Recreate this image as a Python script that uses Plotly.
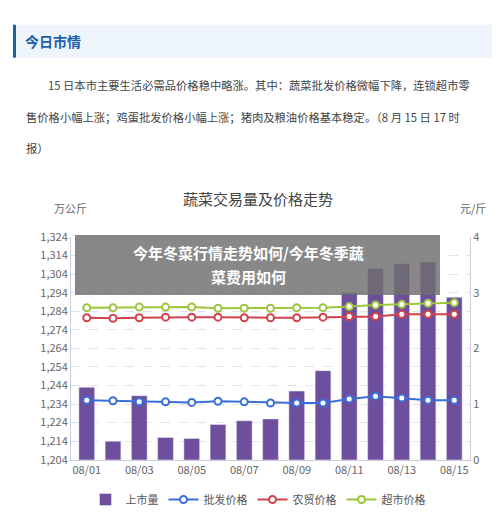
import plotly.graph_objects as go

dates = ["08/01", "08/02", "08/03", "08/04", "08/05", "08/06", "08/07", "08/08",
         "08/09", "08/10", "08/11", "08/12", "08/13", "08/14", "08/15"]
volume = [1243, 1214, 1238.5, 1216, 1215.5, 1223, 1225, 1226,
          1241, 1252, 1294, 1307, 1309.5, 1310.5, 1291.5]
wholesale = [1.07, 1.06, 1.04, 1.04, 1.03, 1.05, 1.04, 1.02,
             1.02, 1.02, 1.09, 1.14, 1.11, 1.07, 1.07]
farm = [2.55, 2.54, 2.55, 2.56, 2.56, 2.56, 2.55, 2.55,
        2.55, 2.56, 2.57, 2.57, 2.61, 2.61, 2.61]
market = [2.73, 2.73, 2.74, 2.74, 2.74, 2.72, 2.72, 2.72,
          2.73, 2.73, 2.75, 2.78, 2.79, 2.81, 2.82]
left_ticks = [1204, 1214, 1224, 1234, 1244, 1254, 1264, 1274, 1284, 1294, 1304, 1314, 1324]

FONT = "Noto Sans CJK SC"
W, H = 500, 514
idx = list(range(len(dates)))

fig = go.Figure()
fig.add_trace(go.Bar(x=idx, y=volume, name="上市量", marker_color="#6e4f9e",
                     width=0.6, yaxis="y"))
for name, vals, col in [("批发价格", wholesale, "#3a6fd8"),
                        ("农贸价格", farm, "#d1434c"),
                        ("超市价格", market, "#9cc63e")]:
    fig.add_trace(go.Scatter(x=idx, y=vals, name=name, yaxis="y2", mode="lines+markers",
                             line=dict(color=col, width=2),
                             marker=dict(size=7, color="white", line=dict(color=col, width=2))))

def px(x, y):
    return x / W, 1 - y / H

shapes = [
    dict(type="rect", xref="paper", yref="paper", x0=5/W, x1=493/W, y0=1-42/H, y1=1-8/H,
         fillcolor="#eef4fc", line_width=0, layer="below"),
    dict(type="rect", xref="paper", yref="paper", x0=5/W, x1=8/W, y0=1-42/H, y1=1-8/H,
         fillcolor="#1f5fa8", line_width=0),
    dict(type="rect", xref="paper", yref="paper", x0=67/W, x1=432/W, y0=1-287/H, y1=1-225/H,
         fillcolor="rgba(110,110,110,0.82)", line_width=0, layer="above"),
]

ann = []
def text(x, y, s, size=11, color="#333", anchor="left", bold=False):
    ax, ay = px(x, y)
    ann.append(dict(x=ax, y=ay, xref="paper", yref="paper", text=f"<b>{s}</b>" if bold else s,
                    showarrow=False, xanchor=anchor, yanchor="middle",
                    font=dict(family=FONT, size=size, color=color)))

text(15, 25, "今日市情", 14, "#1f5fa8", bold=True)
text(38, 70, "15 日本市主要生活必需品价格稳中略涨。其中：蔬菜批发价格微幅下降，连锁超市零", 11.3, "#444")
text(16, 103, "售价格小幅上涨；鸡蛋批发价格小幅上涨；猪肉及粮油价格基本稳定。（8 月 15 日 17 时", 11.3, "#444")
text(16, 135, "报）", 11.3, "#444")
text(250, 187, "蔬菜交易量及价格走势", 15, "#444", anchor="center")
text(62, 197, "万公斤", 11, "#666", anchor="center")
text(465, 197, "元/斤", 11, "#666", anchor="center")
text(240, 243, "今年冬菜行情走势如何/今年冬季蔬", 15, "white", anchor="center", bold=True)
text(240, 268, "菜费用如何", 15, "white", anchor="center", bold=True)

fig.update_layout(
    width=W, height=H, margin=dict(l=0, r=0, t=0, b=0),
    paper_bgcolor="white", plot_bgcolor="white",
    font=dict(family=FONT, size=11, color="#666"),
    xaxis=dict(domain=[63/W, 462/W], range=[-0.6, 14.6], tickvals=idx[::2],
               ticktext=dates[::2], showgrid=False, showline=True, linecolor="#ccd",
               tickfont=dict(size=11, color="#666")),
    yaxis=dict(domain=[1-457/H, 1-227/H], range=[1204, 1324], tickvals=left_ticks,
               tickformat=",", showgrid=True, gridcolor="#dde3f0", griddash="dash",
               showline=True, linecolor="#ccd", zeroline=False),
    yaxis2=dict(overlaying="y", side="right", range=[0, 4], tickvals=[0, 1, 2, 3, 4],
                showgrid=False, showline=True, linecolor="#ccd", anchor="x"),
    legend=dict(orientation="h", x=0.5, xanchor="center", y=1-498/H, yanchor="middle",
                font=dict(size=11, color="#555")),
    bargap=0.4, shapes=shapes, annotations=ann,
)

fig.write_html("out.html")
